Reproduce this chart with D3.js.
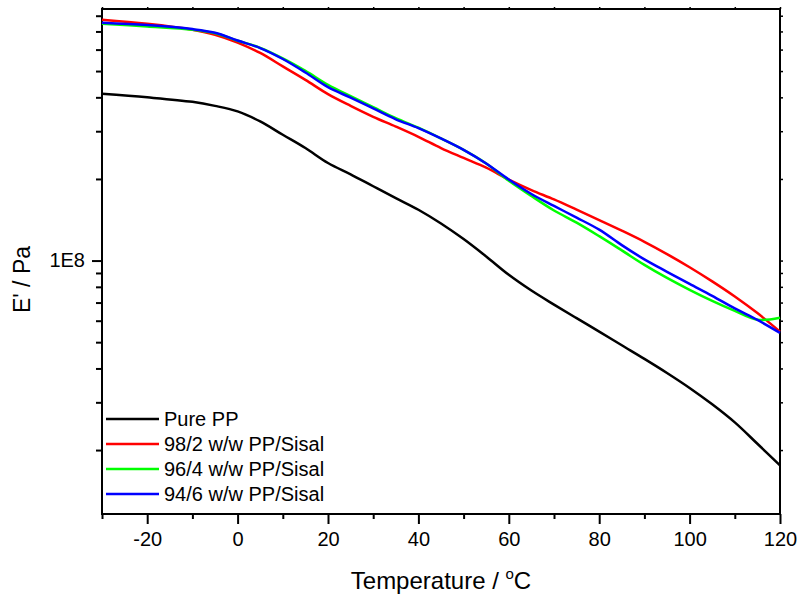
<!DOCTYPE html>
<html>
<head>
<meta charset="utf-8">
<script src="https://cdn.jsdelivr.net/npm/d3@7"></script>
<style>
  body { margin: 0; background: #fff; }
  text { font-family: Arial, "Liberation Sans", sans-serif; fill: #000; }
</style>
</head>
<body>
<div id="chart"></div>
<script>
// temperature (°C) and storage modulus E' (Pa)
const temps = [-30, -20, -10, -5, 0, 5, 10, 15, 20, 25, 30, 35, 40, 45, 50, 55, 60, 65, 70, 75, 80, 85, 90, 95, 100, 105, 110, 115, 120];
const purePP = [4.12e8, 4.00e8, 3.85e8, 3.72e8, 3.55e8, 3.26e8, 2.91e8, 2.60e8, 2.29e8, 2.08e8, 1.88e8, 1.70e8, 1.54e8, 1.37e8, 1.20e8, 1.035e8, 8.86e7, 7.75e7, 6.88e7, 6.13e7, 5.47e7, 4.87e7, 4.34e7, 3.85e7, 3.39e7, 2.95e7, 2.53e7, 2.11e7, 1.755e7];
const pp98 = [7.73e8, 7.47e8, 7.10e8, 6.81e8, 6.37e8, 5.83e8, 5.20e8, 4.64e8, 4.11e8, 3.72e8, 3.39e8, 3.12e8, 2.86e8, 2.60e8, 2.39e8, 2.20e8, 1.99e8, 1.82e8, 1.68e8, 1.54e8, 1.41e8, 1.289e8, 1.173e8, 1.057e8, 9.45e7, 8.38e7, 7.37e7, 6.40e7, 5.47e7];
const pp96 = [7.47e8, 7.30e8, 7.10e8, 6.89e8, 6.47e8, 6.09e8, 5.57e8, 5.01e8, 4.45e8, 4.04e8, 3.68e8, 3.35e8, 3.09e8, 2.82e8, 2.56e8, 2.28e8, 1.97e8, 1.73e8, 1.53e8, 1.38e8, 1.23e8, 1.09e8, 9.64e7, 8.63e7, 7.80e7, 7.10e7, 6.52e7, 6.05e7, 6.15e7];
const pp94 = [7.54e8, 7.39e8, 7.14e8, 6.92e8, 6.48e8, 6.08e8, 5.54e8, 4.94e8, 4.36e8, 3.99e8, 3.64e8, 3.32e8, 3.08e8, 2.82e8, 2.56e8, 2.28e8, 1.99e8, 1.76e8, 1.59e8, 1.44e8, 1.30e8, 1.14e8, 1.01e8, 9.09e7, 8.20e7, 7.41e7, 6.66e7, 6.04e7, 5.41e7];

const seriesNames = ["Pure PP", "98/2 w/w PP/Sisal", "96/4 w/w PP/Sisal", "94/6 w/w PP/Sisal"];
const seriesColors = ["#000000", "#ff0000", "#00ff00", "#0000ff"];
const seriesValues = [purePP, pp98, pp96, pp94];

const xMajorTicks = [-20, 0, 20, 40, 60, 80, 100, 120];
const xMinorTicks = [-30, -10, 10, 30, 50, 70, 90, 110];
const yMajorTicks = [1e8];
const yMinorTicks = [2e7, 3e7, 4e7, 5e7, 6e7, 7e7, 8e7, 9e7, 2e8, 3e8, 4e8, 5e8, 6e8, 7e8, 8e8];

const width = 798, height = 598;
const margin = { top: 9, right: 18, bottom: 84, left: 102 };

const svg = d3.select("#chart").append("svg")
    .attr("width", width)
    .attr("height", height);

const xScale = d3.scaleLinear()
    .domain([-30, 120])
    .range([margin.left, width - margin.right]);

const yScale = d3.scaleLog()
    .domain([1.162e7, 8.47e8])
    .range([height - margin.bottom, margin.top]);

const bottomY = height - margin.bottom;
const rightX = width - margin.right;

// bottom axis: major + minor
svg.append("g")
    .attr("transform", `translate(0,${bottomY})`)
    .call(d3.axisBottom(xScale).tickValues(xMajorTicks).tickSize(10).tickPadding(8)
        .tickFormat(d => String(d)))
    .call(g => g.select(".domain").remove())
    .call(g => g.selectAll("line").attr("stroke-width", 2))
    .call(g => g.selectAll("text").attr("font-size", 20).attr("font-family", null));

svg.append("g")
    .attr("transform", `translate(0,${bottomY})`)
    .call(d3.axisBottom(xScale).tickValues(xMinorTicks).tickSize(5).tickFormat(""))
    .call(g => g.select(".domain").remove())
    .call(g => g.selectAll("line").attr("stroke-width", 2));

// top axis: tiny ticks
svg.append("g")
    .attr("transform", `translate(0,${margin.top})`)
    .call(d3.axisTop(xScale).tickValues(xMajorTicks.concat(xMinorTicks)).tickSize(2).tickFormat(""))
    .call(g => g.select(".domain").remove())
    .call(g => g.selectAll("line").attr("stroke-width", 1.5));

// left axis
svg.append("g")
    .attr("transform", `translate(${margin.left},0)`)
    .call(d3.axisLeft(yScale).tickValues(yMajorTicks).tickSize(10).tickPadding(7)
        .tickFormat(d => "1E8"))
    .call(g => g.select(".domain").remove())
    .call(g => g.selectAll("line").attr("stroke-width", 2))
    .call(g => g.selectAll("text").attr("font-size", 20).attr("font-family", null));

svg.append("g")
    .attr("transform", `translate(${margin.left},0)`)
    .call(d3.axisLeft(yScale).tickValues(yMinorTicks).tickSize(6).tickFormat(""))
    .call(g => g.select(".domain").remove())
    .call(g => g.selectAll("line").attr("stroke-width", 2));

// right axis: tiny ticks
svg.append("g")
    .attr("transform", `translate(${rightX},0)`)
    .call(d3.axisRight(yScale).tickValues(yMajorTicks.concat(yMinorTicks)).tickSize(3).tickFormat(""))
    .call(g => g.select(".domain").remove())
    .call(g => g.selectAll("line").attr("stroke-width", 1.5));

// frame
svg.append("rect")
    .attr("x", margin.left)
    .attr("y", margin.top)
    .attr("width", rightX - margin.left)
    .attr("height", bottomY - margin.top)
    .attr("fill", "none")
    .attr("stroke", "#000")
    .attr("stroke-width", 2);

// curves
const line = d3.line()
    .x((d, i) => xScale(temps[i]))
    .y(d => yScale(d))
    .curve(d3.curveCatmullRom.alpha(0.5));

const plot = svg.append("g");
// drawn black, red, green, blue (blue on top)
seriesValues.forEach((vals, i) => {
    plot.append("path")
        .datum(vals)
        .attr("fill", "none")
        .attr("stroke", seriesColors[i])
        .attr("stroke-width", 2.5)
        .attr("stroke-linejoin", "round")
        .attr("d", line);
});

// axis titles
svg.append("text")
    .attr("x", (margin.left + rightX) / 2)
    .attr("y", 589)
    .attr("text-anchor", "middle")
    .attr("font-size", 24)
    .call(t => {
        t.append("tspan").text("Temperature / ");
        t.append("tspan").attr("font-size", 15).attr("dy", -10).text("o");
        t.append("tspan").attr("dy", 10).text("C");
    });

svg.append("text")
    .attr("transform", `translate(30,${(margin.top + bottomY) / 2 + 18}) rotate(-90)`)
    .attr("text-anchor", "middle")
    .attr("font-size", 23)
    .text("E' / Pa");

// legend
const legend = svg.append("g")
    .attr("transform", `translate(106, 419)`);

seriesNames.forEach((name, i) => {
    const row = legend.append("g")
        .attr("transform", `translate(0, ${i * 25})`);
    row.append("line")
        .attr("x1", 0).attr("x2", 53)
        .attr("y1", 0).attr("y2", 0)
        .attr("stroke", seriesColors[i])
        .attr("stroke-width", 2.5);
    row.append("text")
        .attr("x", 58)
        .attr("y", 0)
        .attr("dy", "0.36em")
        .attr("font-size", 20)
        .text(name);
});
</script>
</body>
</html>
